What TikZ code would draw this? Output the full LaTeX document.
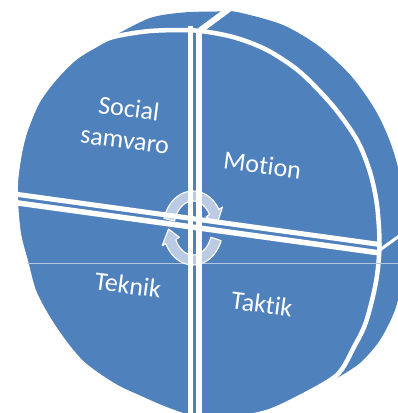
\documentclass[tikz,border=0pt]{standalone}
\usepackage{fontspec}
\setmainfont{Carlito}[Ligatures=NoCommon]
\definecolor{pieblue}{HTML}{4F81BD}
\definecolor{iconfill}{HTML}{BCCBE4}
\definecolor{thinline}{HTML}{B3C7E5}
\begin{document}
\begin{tikzpicture}[x=1pt,y=-1pt,
  lbl/.style={text=white, font=\fontsize{26}{32}\selectfont, rotate=-7.5, align=center, inner sep=0pt},
  gap/.style={draw=white, line width=5pt},
  icon/.style={fill=iconfill, draw=white, line width=1.1pt, line join=round}]
\useasboundingbox (0,0) rectangle (398,413);
\clip (0,0) rectangle (398,413);
% rim (back part of the disc)
\fill[pieblue] plot[smooth] coordinates {(114,36) (150,18) (183,12.5) (217,11.5) (237,12) (283,25) (320,47) (352,77) (377,113) (393,150) (404,195) (406,240) (402,280) (395,310) (380,340) (360,363) (337,378)} -- (250,250) -- (150,100) -- cycle;
% front face
\filldraw[pieblue, draw=white, line width=4.5pt] plot[smooth cycle] coordinates {(113,37) (150,31) (195,30.5) (233,37) (267,50) (300,72) (333,106) (357,140) (370,172) (377,205) (379.5,245) (376,282) (366,322) (354,347) (337,375) (300,397) (267,412) (230,419) (200,420) (168,410) (140,398) (113,385) (81,362) (55,329) (35,294) (26,262) (19,235) (16,205) (16,180) (20,152) (26,129) (38,101) (55,78) (75,58) (96,45)};
% thin light line
\draw[thinline, line width=0.9pt] (27,263.5) -- (398,263.5);
% cycle icon
\filldraw[icon] plot[domain=165:30,samples=30] ({193+30*cos(\x)},{228-37*sin(\x)}) -- ({193+34*cos(30)},{228-42*sin(30)}) -- ({193+24.5*cos(8)},{228-32*sin(8)}) -- ({193+15*cos(30)},{228-22*sin(30)}) -- plot[domain=30:165,samples=30] ({193+19*cos(\x)},{228-27*sin(\x)}) -- cycle;
\filldraw[icon] plot[domain=-20:-155,samples=30] ({193+30*cos(\x)},{228-37*sin(\x)}) -- ({193+34*cos(-155)},{228-42*sin(-155)}) -- ({193+24.5*cos(-178)},{228-32*sin(-178)}) -- ({193+15*cos(-155)},{228-22*sin(-155)}) -- plot[domain=-155:-20,samples=30] ({193+19*cos(\x)},{228-27*sin(\x)}) -- cycle;
% dividers
\draw[gap] (190.5,26) -- (190.5,420);
\draw[gap, line width=5.5pt] (199,30) -- (199,420);
\draw[gap] (8,193.1) -- (380,244.5);
\draw[gap, line width=5.5pt] (8,201.6) -- (380,253);
\draw[draw=white, line width=6pt] (200,30.5) -- (229,9);
\draw[draw=white, line width=3pt] (377,252) -- (402,234);
% labels
\node[lbl] (soc) at (127,124) {Social\\samvaro};
\node[lbl] (mot) at (262.5,165) {Motion};
\node[lbl] (tek) at (128,285) {Teknik};
\node[lbl] (tak) at (262,304) {Taktik};
\end{tikzpicture}
\end{document}
